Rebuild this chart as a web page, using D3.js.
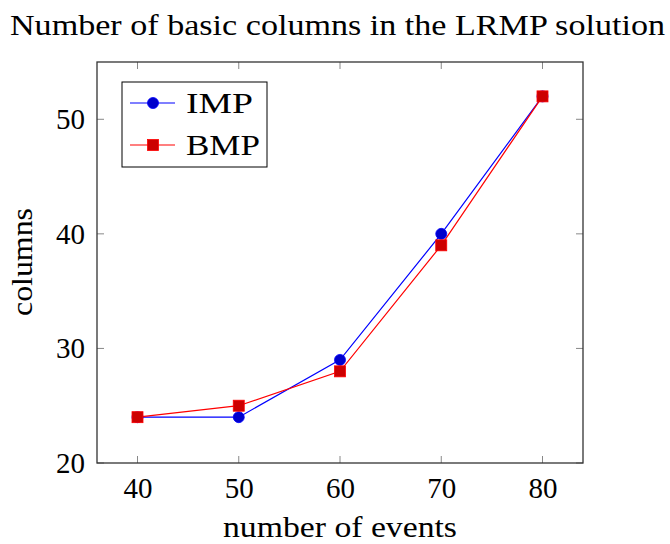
<!DOCTYPE html>
<html><head><meta charset="utf-8">
<script src="https://cdn.jsdelivr.net/npm/d3@7"></script>
<style>body{margin:0;background:#fff}svg{display:block}svg text{font-family:"Liberation Serif","Times New Roman",Times,serif !important;fill:#000}</style>
</head><body><svg id="c" width="670" height="544"></svg>
<script>
const xValues = [40, 50, 60, 70, 80];
const impValues = [24, 24, 29, 40, 52];
const bmpValues = [24, 25, 28, 39, 52];
const xTicks = [40, 50, 60, 70, 80];
const yTicks = [20, 30, 40, 50];
const seriesNames = ["IMP", "BMP"];

const svg = d3.select("#c");
const L = 97, R = 583, T = 62, B = 463;
const x = d3.scaleLinear().domain([36, 84]).range([L, R]);
const y = d3.scaleLinear().domain([20, 55]).range([B, T]);
const fs = 29;

// ticks (inside, mirrored)
const tk = svg.append("g").attr("stroke", "#888").attr("stroke-width", 1);
xTicks.forEach(v => {
  tk.append("line").attr("x1", x(v)).attr("x2", x(v)).attr("y1", B).attr("y2", B - 7);
  tk.append("line").attr("x1", x(v)).attr("x2", x(v)).attr("y1", T).attr("y2", T + 7);
});
yTicks.forEach(v => {
  tk.append("line").attr("y1", y(v)).attr("y2", y(v)).attr("x1", L).attr("x2", L + 7);
  tk.append("line").attr("y1", y(v)).attr("y2", y(v)).attr("x1", R).attr("x2", R - 7);
});

const xAxis = d3.axisBottom(x).tickValues(xTicks).tickSize(0).tickPadding(14);
const gx = svg.append("g").attr("transform", `translate(0,${B})`).call(xAxis);
gx.select(".domain").remove();
gx.selectAll("text").style("font-size", fs + "px").attr("font-family", null);
const yAxis = d3.axisLeft(y).tickValues(yTicks).tickSize(0).tickPadding(12);
const gy = svg.append("g").attr("transform", `translate(${L},0)`).call(yAxis);
gy.select(".domain").remove();
gy.selectAll("text").style("font-size", fs + "px").attr("font-family", null);

svg.append("rect").attr("x", L).attr("y", T).attr("width", R - L).attr("height", B - T)
  .attr("fill", "none").attr("stroke", "#333").attr("stroke-width", 1.3);

const line = d3.line().x((d, i) => x(xValues[i])).y(d => y(d));
svg.append("path").datum(impValues).attr("d", line).attr("fill", "none").attr("stroke", "#0000ff").attr("stroke-width", 1.2);
svg.append("path").datum(bmpValues).attr("d", line).attr("fill", "none").attr("stroke", "#ff0000").attr("stroke-width", 1.2);
svg.selectAll(".imp").data(impValues).enter().append("circle")
  .attr("cx", (d, i) => x(xValues[i])).attr("cy", d => y(d)).attr("r", 5.5)
  .attr("fill", "#0000cc").attr("stroke", "#0000ff").attr("stroke-width", 0.8);
svg.selectAll(".bmp").data(bmpValues).enter().append("rect")
  .attr("x", (d, i) => x(xValues[i]) - 5.5).attr("y", d => y(d) - 5.5).attr("width", 11).attr("height", 11)
  .attr("fill", "#cc0000").attr("stroke", "#ff0000").attr("stroke-width", 0.8);

// legend
const lg = svg.append("g");
lg.append("rect").attr("x", 122).attr("y", 82).attr("width", 145).attr("height", 85)
  .attr("fill", "#fff").attr("stroke", "#000").attr("stroke-width", 1);
[[103, "#0000ff", "#0000cc", "c"], [145, "#ff0000", "#cc0000", "s"]].forEach((r, i) => {
  lg.append("line").attr("x1", 130).attr("x2", 175).attr("y1", r[0]).attr("y2", r[0]).attr("stroke", r[1]).attr("stroke-width", 1.2);
  if (r[3] === "c") lg.append("circle").attr("cx", 153).attr("cy", r[0]).attr("r", 5.5).attr("fill", r[2]).attr("stroke", r[1]).attr("stroke-width", 0.8);
  else lg.append("rect").attr("x", 147.5).attr("y", r[0] - 5.5).attr("width", 11).attr("height", 11).attr("fill", r[2]).attr("stroke", r[1]).attr("stroke-width", 0.8);
  lg.append("text").attr("x", 186).attr("y", r[0]).attr("dy", "0.34em").style("font-size", fs + "px")
    .attr("textLength", i === 0 ? 67 : 74).attr("lengthAdjust", "spacingAndGlyphs").text(seriesNames[i]);
});

svg.append("text").attr("x", 337.5).attr("y", 35).attr("text-anchor", "middle").style("font-size", "29px")
  .attr("textLength", 655).attr("lengthAdjust", "spacingAndGlyphs").text("Number of basic columns in the LRMP solution");
svg.append("text").attr("x", 340).attr("y", 537).attr("text-anchor", "middle").style("font-size", fs + "px")
  .attr("textLength", 234).attr("lengthAdjust", "spacingAndGlyphs").text("number of events");
svg.append("text").attr("transform", "translate(32,262) rotate(-90)").attr("text-anchor", "middle").style("font-size", fs + "px")
  .attr("textLength", 108).attr("lengthAdjust", "spacingAndGlyphs").text("columns");
</script></body></html>
